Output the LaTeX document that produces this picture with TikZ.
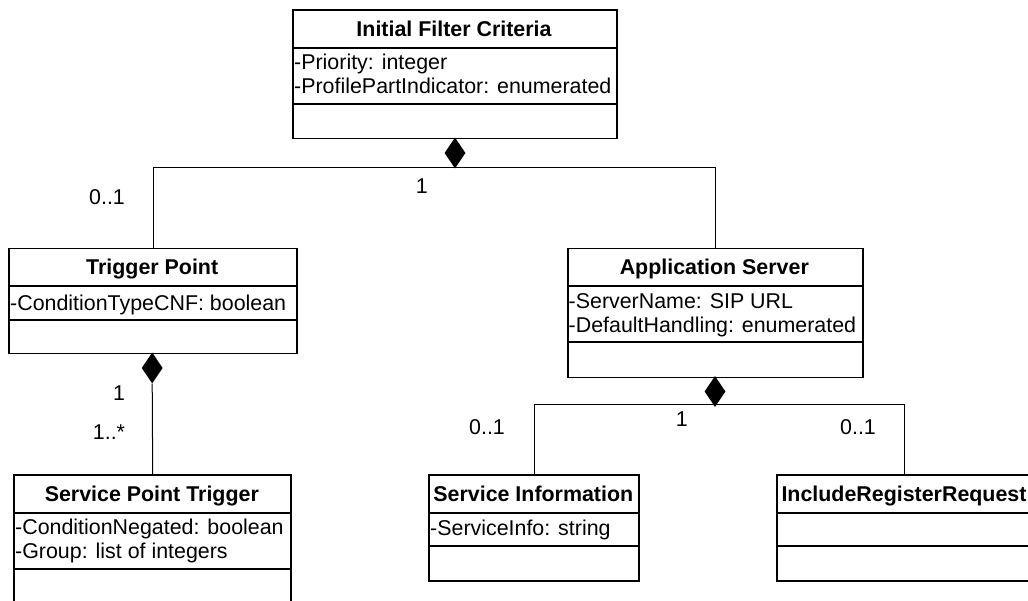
\documentclass[tikz,border=0pt]{standalone}
\usepackage{fontspec}
\setmainfont{Liberation Sans}
\usetikzlibrary{shapes.geometric}
\begin{document}
\begin{tikzpicture}[x=1pt,y=-1pt,
  box/.style={draw=black, line width=1.8pt, inner sep=0pt, anchor=north west},
  divline/.style={draw=black, line width=1.8pt},
  conn/.style={draw=black, line width=1pt},
  ttl/.style={font=\fontsize{21.4}{25}\selectfont\bfseries, inner sep=0pt, anchor=base},
  attr/.style={font=\fontsize{21.4}{25}\selectfont, inner sep=0pt, anchor=base west},
  mult/.style={font=\fontsize{21.4}{25}\selectfont, inner sep=0pt, anchor=base},
  comp/.style={shape=diamond, fill=black, draw=none, inner sep=0pt, minimum width=21pt, minimum height=31pt}
]
\useasboundingbox (0,0) rectangle (1028,601);
\fill[white] (0,0) rectangle (1028,601);
\clip (0,0) rectangle (1028,601);

% Initial Filter Criteria
\node[box, minimum width=324pt, minimum height=128.4pt] (ifc) at (292,9.3) {};
\draw[divline] (292,47.7) -- (616,47.7);
\draw[divline] (292,104.3) -- (616,104.3);
\node[ttl] (ifct) at (454,36.2) {Initial Filter Criteria};
\node[attr] (ifca1) at (294,69.8) {-Priority: integer};
\node[attr] (ifca2) at (294,94) {-ProfilePartIndicator: enumerated};

% Trigger Point
\node[box, minimum width=287.7pt, minimum height=105pt] (tp) at (8.3,247.7) {};
\draw[divline] (8.3,285.7) -- (296,285.7);
\draw[divline] (8.3,320) -- (296,320);
\node[ttl] (tpt) at (152.2,274.3) {Trigger Point};
\node[attr] (tpa1) at (10,310.5) {-ConditionTypeCNF: boolean};

% Application Server
\node[box, minimum width=295.3pt, minimum height=129pt] (as) at (566.7,247.7) {};
\draw[divline] (566.7,286) -- (862,286);
\draw[divline] (566.7,342.3) -- (862,342.3);
\node[ttl] (ast) at (714.3,274.5) {Application Server};
\node[attr] (asa1) at (568.5,308.5) {-ServerName: SIP URL};
\node[attr] (asa2) at (568.5,332.7) {-DefaultHandling: enumerated};

% Service Point Trigger
\node[box, minimum width=277pt, minimum height=135pt] (spt) at (13.3,474) {};
\draw[divline] (13.3,512.7) -- (290.3,512.7);
\draw[divline] (13.3,569.3) -- (290.3,569.3);
\node[ttl] (sptt) at (151.8,501) {Service Point Trigger};
\node[attr] (spta1) at (15,534) {-ConditionNegated: boolean};
\node[attr] (spta2) at (15,558.3) {-Group: list of integers};

% Service Information
\node[box, minimum width=210pt, minimum height=105.7pt] (si) at (428.3,474.3) {};
\draw[divline] (428.3,512.7) -- (638.3,512.7);
\draw[divline] (428.3,545.7) -- (638.3,545.7);
\node[ttl] (sit) at (533.3,501) {Service Information};
\node[attr] (sia1) at (430,535.7) {-ServiceInfo: string};

% IncludeRegisterRequest
\node[box, minimum width=256pt, minimum height=105.7pt] (irr) at (776,474.3) {};
\draw[divline] (776,512.7) -- (1032,512.7);
\draw[divline] (776,546) -- (1032,546);
\node[ttl] (irrt) at (904,501) {IncludeRegisterRequest};

% composition diamonds
\node[comp] (d1) at (455,153) {};
\node[comp] (d2) at (152.2,368) {};
\node[comp] (d3) at (715,391.5) {};

% connectors
\draw[conn] (tp.north) |- ([yshift=1.5pt]d1.south) -| (as.north);
\draw[conn] (d2.south) -- (spt.north);
\draw[conn] (si.north) |- ([yshift=2.5pt]d3.south) -| (irr.north);

% multiplicities
\node[mult] (m1) at (107,205) {0..1};
\node[mult] (m2) at (421.7,193.3) {1};
\node[mult] (m3) at (119,400) {1};
\node[mult] (m4) at (109,439.3) {1..*};
\node[mult] (m5) at (487,435) {0..1};
\node[mult] (m6) at (681.7,426.7) {1};
\node[mult] (m7) at (858,435) {0..1};
\end{tikzpicture}
\end{document}
